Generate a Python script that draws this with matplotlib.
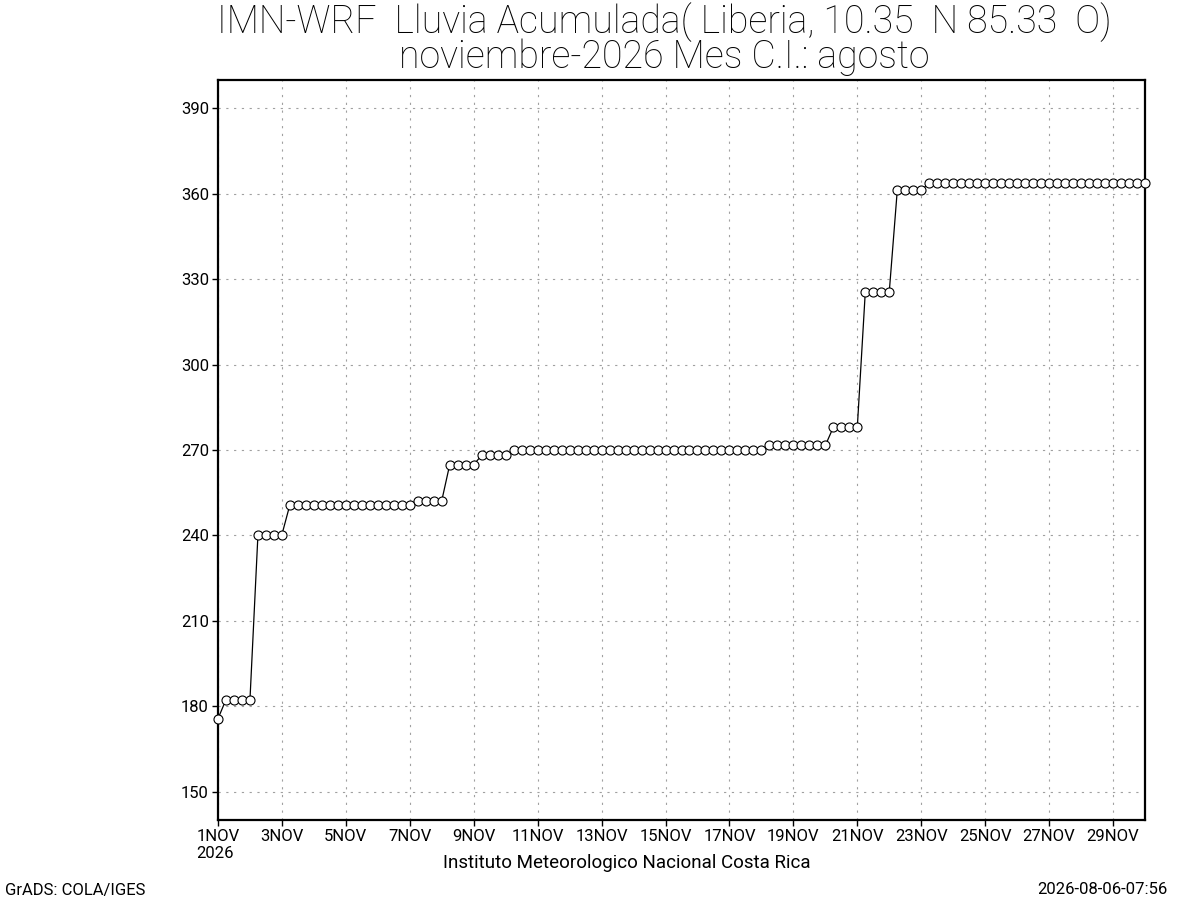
import numpy as np
import matplotlib
matplotlib.use('Agg')
import matplotlib.pyplot as plt

plt.rcParams['font.family'] = ['Roboto', 'DejaVu Sans']

# lluvia acumulada (mm), cada 6 horas desde 1NOV 00Z
lluvia = [175.6,
          182.3, 182.3, 182.3, 182.3,
          240.3, 240.3, 240.3, 240.3,
          250.8, 250.8, 250.8, 250.8, 250.8, 250.8, 250.8, 250.8,
          250.8, 250.8, 250.8, 250.8, 250.8, 250.8, 250.8, 250.8,
          252.2, 252.2, 252.2, 252.2,
          264.9, 264.9, 264.9, 264.9,
          268.1, 268.1, 268.1, 268.1,
          269.9, 269.9, 269.9, 269.9, 269.9, 269.9, 269.9, 269.9,
          269.9, 269.9, 269.9, 269.9, 269.9, 269.9, 269.9, 269.9,
          269.9, 269.9, 269.9, 269.9, 269.9, 269.9, 269.9, 269.9,
          269.9, 269.9, 269.9, 269.9, 269.9, 269.9, 269.9, 269.9,
          271.6, 271.6, 271.6, 271.6, 271.6, 271.6, 271.6, 271.6,
          278.0, 278.0, 278.0, 278.0,
          325.6, 325.6, 325.6, 325.6,
          361.2, 361.2, 361.2, 361.2,
          363.9, 363.9, 363.9, 363.9, 363.9, 363.9, 363.9, 363.9,
          363.9, 363.9, 363.9, 363.9, 363.9, 363.9, 363.9, 363.9,
          363.9, 363.9, 363.9, 363.9, 363.9, 363.9, 363.9, 363.9,
          363.9, 363.9, 363.9, 363.9]
paso_horas = 6

y_ticks = [150, 180, 210, 240, 270, 300, 330, 360, 390]
x_tick_dias = [1, 3, 5, 7, 9, 11, 13, 15, 17, 19, 21, 23, 25, 27, 29]
x_tick_labels = ['1NOV\n2026'] + ['%dNOV' % d for d in x_tick_dias[1:]]

titulo = ('IMN-WRF  Lluvia Acumulada( Liberia, 10.35  N 85.33  O)\n'
          'noviembre-2026 Mes C.I.: agosto')

t = np.arange(len(lluvia)) * paso_horas / 24.0

fig = plt.figure(figsize=(12, 9), dpi=100)
ax = fig.add_axes([218/1200, 80/900, 927/1200, 740/900])

ax.plot(t, lluvia, color='black', lw=0.9, marker='o', ms=6.5,
        mfc='white', mec='black', mew=0.8, clip_on=False, zorder=3)

ax.set_xlim(0, 29)
ax.set_ylim(140, 400)
ax.set_yticks(y_ticks)
ax.set_xticks([d - 1 for d in x_tick_dias])
ax.set_xticklabels(x_tick_labels, multialignment='left')

ax.grid(True, color='#a0a0a0', lw=0.8, linestyle=(0, (2, 5)))
ax.tick_params(direction='out', length=4.5, width=1, labelsize=12, pad=2)
for s in ax.spines.values():
    s.set_linewidth(1.6)

fig.text(664/1200, 1 - 39/900, titulo, ha='center', va='center',
         fontsize=27, fontweight='light', linespacing=0.9)
fig.text(627/1200, 1 - 863/900, 'Instituto Meteorologico Nacional Costa Rica',
         ha='center', va='center', fontsize=13.5)
fig.text(5/1200, 1 - 890/900, 'GrADS: COLA/IGES', ha='left', va='center', fontsize=12)
fig.text(1168/1200, 1 - 890/900, '2026-08-06-07:56', ha='right', va='center', fontsize=12)

fig.savefig('out.png', dpi=100, facecolor='white')
